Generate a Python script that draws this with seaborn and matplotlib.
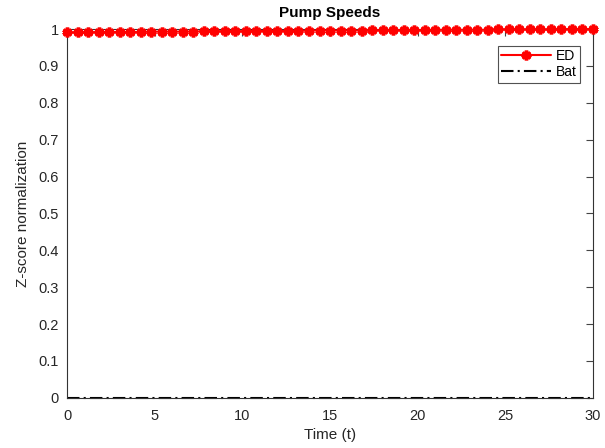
import numpy as np
import pandas as pd
import matplotlib
matplotlib.use("Agg")
import matplotlib.pyplot as plt
import seaborn as sns

# time samples (every 0.6 s)
time = [round(0.6 * i, 1) for i in range(51)]

# ED pump speed (normalised)
ed = [0.991, 0.991, 0.991, 0.992, 0.992, 0.992, 0.992, 0.992, 0.993, 0.993,
      0.993, 0.993, 0.993, 0.994, 0.994, 0.994, 0.994, 0.994, 0.995, 0.995,
      0.995, 0.995, 0.995, 0.996, 0.996, 0.996, 0.996, 0.996, 0.996, 0.997,
      0.997, 0.997, 0.997, 0.997, 0.997, 0.998, 0.998, 0.998, 0.998, 0.998,
      0.998, 0.999, 0.999, 0.999, 0.999, 0.999, 0.999, 1.0, 1.0, 1.0, 1.0]

# Bat pump speed (normalised)
bat = [0.0] * 51

xticks = [0, 5, 10, 15, 20, 25, 30]
yticks = [0, 0.1, 0.2, 0.3, 0.4, 0.5, 0.6, 0.7, 0.8, 0.9, 1]
ytick_labels = ["0", "0.1", "0.2", "0.3", "0.4", "0.5", "0.6", "0.7", "0.8", "0.9", "1"]

sns.set_style("white")
plt.rcParams['font.family'] = ['Liberation Sans', 'DejaVu Sans']

df = pd.DataFrame({"Time": time, "ED": ed, "Bat": bat})

fig = plt.figure(figsize=(6.05, 4.48), dpi=100)
ax = fig.add_axes([0.111, 0.112, 0.869, 0.823])

sns.lineplot(data=df, x="Time", y="ED", ax=ax, color="red", linewidth=1.5,
             marker=(6, 2, 0), markersize=7, markeredgewidth=2.6,
             markeredgecolor="red", markerfacecolor="red", label="ED",
             clip_on=False, zorder=5)
sns.lineplot(data=df, x="Time", y="Bat", ax=ax, color="black", linewidth=1.5,
             linestyle=(0, (6, 2, 1, 2)), label="Bat", clip_on=False)

ax.set_xlim(0, 30)
ax.set_ylim(0, 1)
ax.set_xticks(xticks)
ax.set_yticks(yticks)
ax.set_yticklabels(ytick_labels)
ax.tick_params(direction="in", length=5, width=0.8, color="#444444",
               labelcolor="#262626", labelsize=10.5, top=True, right=True)
ax.tick_params(axis="x", pad=8)
ax.tick_params(axis="y", pad=6)
for sp in ax.spines.values():
    sp.set_color("#333333")
    sp.set_linewidth(0.8)

ax.set_xlabel("Time (t)", fontsize=11, labelpad=4, color="#262626")
ax.set_ylabel("Z-score normalization", fontsize=11, labelpad=6, color="#262626")
ax.set_title("Pump Speeds", fontsize=11, fontweight="bold", pad=9, color="black")

leg = ax.legend(loc="upper right", bbox_to_anchor=(0.975, 0.955), fontsize=10,
                frameon=True, fancybox=False, handlelength=3.6, borderpad=0.25,
                labelspacing=0.15, handletextpad=0.3, borderaxespad=0)
leg.get_frame().set_edgecolor("#262626")
leg.get_frame().set_linewidth(0.8)
for t in leg.get_texts():
    t.set_color("black")

fig.savefig("out.png", dpi=100)
